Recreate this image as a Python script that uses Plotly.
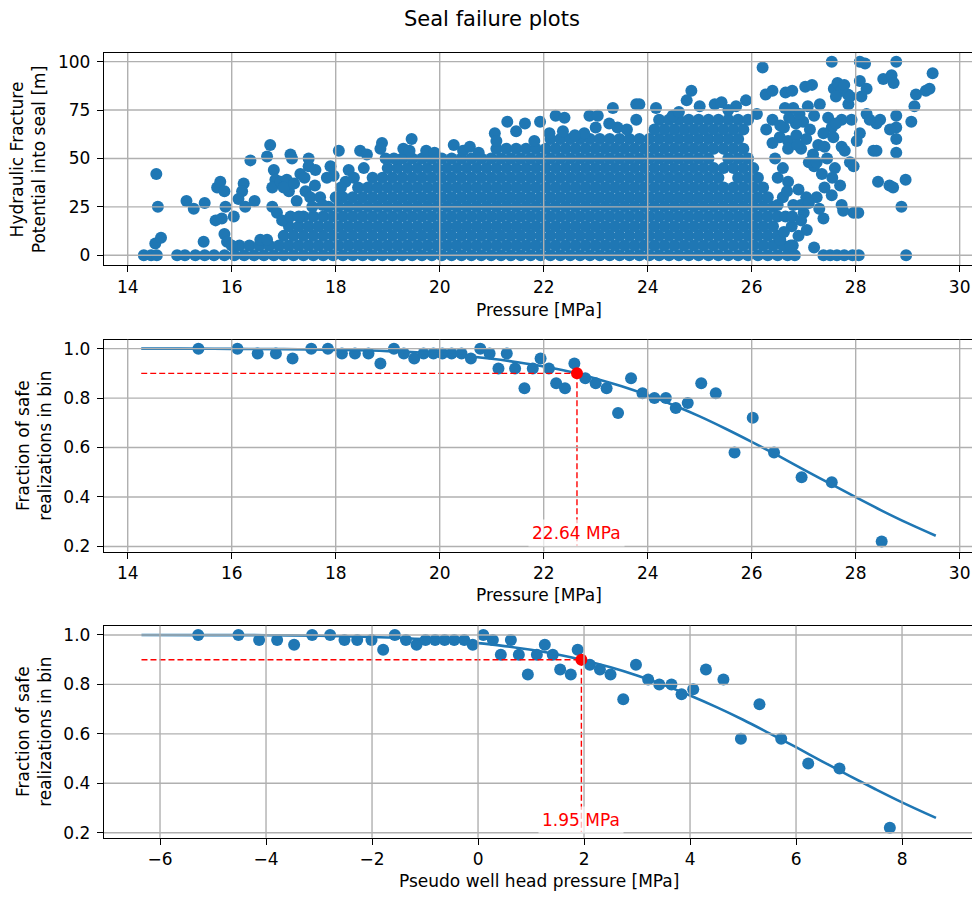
import plotly.graph_objects as go

FONT = "DejaVu Sans"
BLUE = "#1f77b4"
GRID = "#b0b0b0"

# ---------------------------------------------------------------------------
# Realizations: pore pressure [MPa] vs. hydraulic fracture height into seal [m]
# ---------------------------------------------------------------------------
# realizations whose fracture does not enter the seal (0 m)
zero_pressure = [
    14.31, 14.45, 14.56, 14.95, 15.10, 15.30, 15.48, 15.66, 15.86, 16.05, 16.24,
    16.43, 16.62, 16.81, 17.00, 17.19, 17.38, 17.57, 17.76, 17.95, 18.14, 18.33,
    18.52, 18.71, 18.90, 19.09, 19.28, 19.47, 19.66, 19.85, 20.04, 20.23, 20.42,
    20.61, 20.80, 20.99, 21.18, 21.37, 21.56, 21.75, 21.94, 22.13, 22.32, 22.51,
    22.70, 22.89, 23.08, 23.27, 23.46, 23.65, 23.84, 24.03, 24.22, 24.41, 24.60,
    24.79, 24.98, 25.17, 25.36, 25.55, 25.74, 25.93, 26.12, 26.31, 26.50, 26.69,
    26.83, 27.38, 27.51, 27.64, 27.78, 27.94, 28.06, 28.97,
]

# the bulk of the realizations, grouped by fracture height band [m]
band_heights = [5, 10, 15, 20, 25, 30, 35, 40, 45, 50, 55, 60, 65, 70]
band_pressures = [
    [16.15, 16.34, 16.53, 16.72, 16.91, 17.10, 17.29, 17.48, 17.67, 17.86, 18.05,
     18.24, 18.43, 18.62, 18.81, 19.00, 19.19, 19.38, 19.57, 19.76, 19.95, 20.14,
     20.33, 20.52, 20.71, 20.90, 21.09, 21.28, 21.47, 21.66, 21.85, 22.04, 22.23,
     22.42, 22.61, 22.80, 22.99, 23.18, 23.37, 23.56, 23.75, 23.94, 24.13, 24.32,
     24.51, 24.70, 24.89, 25.08, 25.27, 25.46, 25.65, 25.84, 26.03, 26.22, 26.41,
     26.60, 26.79],
    [17.00, 17.19, 17.38, 17.57, 17.76, 17.95, 18.14, 18.33, 18.52, 18.71, 18.90,
     19.09, 19.28, 19.47, 19.66, 19.85, 20.04, 20.23, 20.42, 20.61, 20.80, 20.99,
     21.18, 21.37, 21.56, 21.75, 21.94, 22.13, 22.32, 22.51, 22.70, 22.89, 23.08,
     23.27, 23.46, 23.65, 23.84, 24.03, 24.22, 24.41, 24.60, 24.79, 24.98, 25.17,
     25.36, 25.55, 25.74, 25.93, 26.12, 26.31, 26.50],
    [17.10, 17.29, 17.48, 17.67, 17.86, 18.05, 18.24, 18.43, 18.62, 18.81, 19.00,
     19.19, 19.38, 19.57, 19.76, 19.95, 20.14, 20.33, 20.52, 20.71, 20.90, 21.09,
     21.28, 21.47, 21.66, 21.85, 22.04, 22.23, 22.42, 22.61, 22.80, 22.99, 23.18,
     23.37, 23.56, 23.75, 23.94, 24.13, 24.32, 24.51, 24.70, 24.89, 25.08, 25.27,
     25.46, 25.65, 25.84, 26.03, 26.22, 26.41],
    [17.38, 17.57, 17.76, 17.95, 18.14, 18.33, 18.52, 18.71, 18.90, 19.09, 19.28,
     19.47, 19.66, 19.85, 20.04, 20.23, 20.42, 20.61, 20.80, 20.99, 21.18, 21.37,
     21.56, 21.75, 21.94, 22.13, 22.32, 22.51, 22.70, 22.89, 23.08, 23.27, 23.46,
     23.65, 23.84, 24.03, 24.22, 24.41, 24.60, 24.79, 24.98, 25.17, 25.36, 25.55,
     25.74, 25.93, 26.12, 26.31, 26.50],
    [17.86, 18.05, 18.24, 18.43, 18.62, 18.81, 19.00, 19.19, 19.38, 19.57, 19.76,
     19.95, 20.14, 20.33, 20.52, 20.71, 20.90, 21.09, 21.28, 21.47, 21.66, 21.85,
     22.04, 22.23, 22.42, 22.61, 22.80, 22.99, 23.18, 23.37, 23.56, 23.75, 23.94,
     24.13, 24.32, 24.51, 24.70, 24.89, 25.08, 25.27, 25.46, 25.65, 25.84, 26.03,
     26.22, 26.41],
    [18.14, 18.33, 18.52, 18.71, 18.90, 19.09, 19.28, 19.47, 19.66, 19.85, 20.04,
     20.23, 20.42, 20.61, 20.80, 20.99, 21.18, 21.37, 21.56, 21.75, 21.94, 22.13,
     22.32, 22.51, 22.70, 22.89, 23.08, 23.27, 23.46, 23.65, 23.84, 24.03, 24.22,
     24.41, 24.60, 24.79, 24.98, 25.17, 25.36, 25.55, 25.74, 25.93, 26.12, 26.31],
    [18.43, 18.62, 18.81, 19.00, 19.19, 19.38, 19.57, 19.76, 19.95, 20.14, 20.33,
     20.52, 20.71, 20.90, 21.09, 21.28, 21.47, 21.66, 21.85, 22.04, 22.23, 22.42,
     22.61, 22.80, 22.99, 23.18, 23.37, 23.56, 23.75, 23.94, 24.13, 24.32, 24.51,
     24.70, 24.89, 25.08, 25.27, 25.46, 25.65, 25.84, 26.03, 26.22],
    [18.71, 18.90, 19.09, 19.28, 19.47, 19.66, 19.85, 20.04, 20.23, 20.42, 20.61,
     20.80, 20.99, 21.18, 21.37, 21.56, 21.75, 21.94, 22.13, 22.32, 22.51, 22.70,
     22.89, 23.08, 23.27, 23.46, 23.65, 23.84, 24.03, 24.22, 24.41, 24.60, 24.79,
     24.98, 25.17, 25.36, 25.74, 25.93, 26.12],
    [19.00, 19.19, 19.38, 19.57, 19.76, 19.95, 20.14, 20.33, 20.52, 20.71, 20.90,
     21.09, 21.28, 21.47, 21.66, 21.85, 22.04, 22.23, 22.42, 22.61, 22.80, 22.99,
     23.18, 23.37, 23.56, 23.75, 23.94, 24.13, 24.32, 24.51, 24.70, 24.89, 25.08,
     25.27, 25.46, 25.65, 25.84, 26.03],
    [19.28, 19.47, 19.66, 19.85, 20.04, 20.23, 20.42, 20.61, 20.80, 20.99, 21.18,
     21.37, 21.56, 21.75, 21.94, 22.13, 22.32, 22.51, 22.70, 22.89, 23.08, 23.27,
     23.46, 23.65, 23.84, 24.03, 24.22, 24.41, 24.60, 24.79, 24.98, 25.17, 25.55,
     25.74, 25.93],
    [21.09, 21.28, 21.47, 21.66, 21.85, 22.04, 22.23, 22.42, 22.61, 22.80, 22.99,
     23.18, 23.37, 23.56, 23.75, 23.94, 24.13, 24.32, 24.51, 24.70, 24.89, 25.08,
     25.27, 25.46, 25.65, 25.84],
    [22.13, 22.32, 22.51, 22.70, 22.89, 23.08, 23.27, 23.46, 23.65, 23.84, 24.03,
     24.22, 24.41, 24.60, 24.79, 24.98, 25.17, 25.36, 25.55, 25.74],
    [24.13, 24.32, 24.51, 24.70, 24.89, 25.08, 25.27, 25.46, 25.65, 25.84],
    [24.22, 24.41, 24.60, 24.79, 24.98, 25.17, 25.36, 25.55, 25.74, 25.93],
]

# individual realizations around and above the bulk: (pressure, height)
scattered = [
    (14.55, 42), (14.58, 25), (14.53, 6), (14.64, 9), (15.13, 28), (15.27, 24),
    (15.48, 27), (15.46, 7), (15.69, 18), (15.72, 35), (15.78, 38), (15.86, 33),
    (15.81, 19), (15.88, 25), (16.04, 20), (15.86, 11), (15.91, 7), (16.00, 5),
    (16.23, 37), (16.20, 33), (16.13, 29), (16.26, 25), (16.36, 49), (16.44, 28),
    (16.55, 8), (16.68, 8), (16.68, 51), (16.74, 57), (16.81, 44), (16.84, 39),
    (16.78, 35), (16.78, 25), (16.87, 22), (16.97, 18), (16.94, 38), (17.06, 39),
    (17.13, 52), (17.16, 50), (17.10, 33), (17.13, 20), (17.29, 20), (17.32, 42),
    (17.40, 40), (17.48, 50), (17.48, 46), (17.61, 44), (17.42, 33), (17.51, 30),
    (17.00, 35), (17.20, 37), (17.25, 28), (17.60, 36), (17.70, 30), (17.75, 26),
    (17.55, 25), (17.90, 46), (17.96, 41), (17.83, 40), (18.06, 54), (18.25, 44),
    (18.19, 38), (18.47, 54), (18.60, 52), (18.54, 45), (18.89, 58), (18.86, 55),
    (18.96, 50), (19.12, 50), (18.35, 40), (18.10, 35), (18.00, 30),
    (19.46, 60), (19.30, 55), (19.42, 54), (19.74, 54), (19.90, 53), (20.27, 57),
    (20.45, 54), (20.58, 56), (20.75, 53), (21.06, 63), (21.09, 59), (21.30, 69),
    (21.47, 64), (21.64, 68), (21.82, 59), (21.93, 69), (22.11, 63), (22.23, 72),
    (22.40, 71), (22.37, 64), (22.78, 63), (22.88, 72), (23.04, 72), (23.33, 76),
    (23.42, 66), (23.26, 68), (23.78, 78), (23.84, 78), (23.78, 70), (24.16, 76),
    (24.48, 72), (23.60, 65), (23.00, 66), (22.60, 62), (24.84, 85), (24.75, 80),
    (25.29, 78), (25.42, 79), (25.89, 80), (25.70, 77), (25.00, 77), (24.60, 74),
    (25.55, 75),
    (26.21, 97), (26.27, 83), (26.40, 85), (26.65, 84), (26.78, 85), (27.03, 87),
    (27.16, 88), (27.31, 78), (26.64, 76), (26.80, 76), (26.10, 73), (27.58, 86),
    (27.65, 89), (27.72, 85), (27.78, 88), (27.62, 82), (27.85, 83), (27.54, 100),
    (28.08, 100), (28.18, 99), (28.78, 100), (29.48, 94), (28.53, 91), (28.69, 93),
    (28.73, 89), (28.08, 90), (28.21, 86), (28.11, 82), (27.86, 78), (27.89, 82),
    (29.16, 83), (29.35, 85), (29.42, 86), (29.13, 77), (29.07, 69), (28.78, 72),
    (28.78, 66), (28.78, 60), (28.78, 53), (28.47, 70), (28.66, 65), (28.40, 68),
    (28.34, 54), (28.40, 54), (28.21, 73), (28.27, 70), (28.08, 63), (28.02, 59),
    (27.73, 70), (27.92, 70), (27.47, 71), (27.54, 66), (27.38, 63), (27.57, 61),
    (27.73, 56), (27.79, 54), (27.89, 48), (27.18, 52), (27.28, 57), (26.99, 69),
    (27.12, 65), (26.54, 61), (26.70, 59), (26.86, 62), (26.28, 65), (27.96, 46),
    (28.43, 38), (28.65, 36), (28.72, 35), (28.96, 39), (28.88, 25), (28.05, 22),
    (27.96, 22), (27.73, 26), (27.76, 23), (27.70, 36), (27.54, 31), (27.38, 19),
    (27.06, 13), (27.20, 4), (26.77, 15), (26.45, 50), (26.60, 45), (26.50, 40),
    (26.70, 38), (26.90, 34), (27.05, 30), (26.60, 30), (26.80, 26), (27.00, 22),
    (26.65, 20), (26.90, 10), (26.55, 8), (27.20, 46), (27.35, 42), (27.40, 35),
    (27.25, 30), (26.95, 55), (27.10, 48), (26.40, 58), (26.62, 66), (26.85, 68),
    (27.20, 72), (26.40, 70), (27.45, 50), (27.60, 45), (27.30, 24), (27.55, 40),
    (26.62, 12), (26.78, 20), (26.95, 26), (26.68, 33), (26.70, 55), (26.88, 57),
    (27.05, 60), (26.55, 67), (26.72, 71), (26.92, 73), (27.08, 77), (27.25, 48),
    (27.40, 56), (27.62, 68), (26.95, 18), (27.10, 27), (26.75, 5), (26.50, 26),
]

# ---------------------------------------------------------------------------
# Fraction of safe realizations per pressure bin, and the fitted curve
# ---------------------------------------------------------------------------
bin_pressure = [
    15.36, 16.11, 16.50, 16.85, 17.17, 17.53, 17.85, 18.12, 18.37, 18.63,
    18.86, 19.12, 19.31, 19.51, 19.69, 19.88, 20.05, 20.23, 20.42, 20.60,
    20.78, 20.96, 21.13, 21.29, 21.45, 21.63, 21.79, 21.94, 22.10, 22.24,
    22.41, 22.59, 22.80, 23.00, 23.21, 23.43, 23.68, 23.90, 24.13, 24.35,
    24.54, 24.77, 25.03, 25.31, 25.67, 26.02, 26.43, 26.96, 27.54, 28.50,
]
bin_whp = [
    -5.28, -4.52, -4.13, -3.79, -3.47, -3.13, -2.79, -2.52, -2.28, -2.01,
    -1.79, -1.57, -1.36, -1.16, -0.99, -0.81, -0.63, -0.45, -0.26, -0.10,
    0.10, 0.28, 0.43, 0.62, 0.77, 0.94, 1.11, 1.26, 1.41, 1.55,
    1.75, 1.88, 2.11, 2.30, 2.50, 2.74, 2.98, 3.21, 3.42, 3.65,
    3.84, 4.06, 4.30, 4.63, 4.96, 5.31, 5.72, 6.23, 6.82, 7.77,
]
safe_fraction = [
    1.00, 1.00, 0.98, 0.98, 0.96, 1.00, 1.00, 0.98, 0.98, 0.98,
    0.94, 1.00, 0.98, 0.96, 0.98, 0.98, 0.98, 0.98, 0.98, 0.96,
    1.00, 0.98, 0.92, 0.98, 0.92, 0.84, 0.92, 0.96, 0.92, 0.86,
    0.84, 0.94, 0.88, 0.86, 0.84, 0.74, 0.88, 0.82, 0.80, 0.80,
    0.76, 0.78, 0.86, 0.82, 0.58, 0.72, 0.58, 0.48, 0.46, 0.22,
]

fit_pressure = [14.26, 15.0, 16.0, 17.0, 18.0, 19.0, 20.0, 21.0, 21.5, 22.0,
                22.64, 23.0, 23.5, 24.0, 24.5, 25.0, 25.5, 26.0, 26.5, 27.0,
                27.5, 28.0, 28.5, 29.0, 29.54]
fit_fraction = [1.000, 1.000, 0.999, 0.998, 0.995, 0.990, 0.979, 0.959, 0.945, 0.928,
                0.900, 0.879, 0.848, 0.812, 0.771, 0.726, 0.676, 0.623, 0.568, 0.511,
                0.455, 0.399, 0.345, 0.294, 0.243]

fit_whp = [-6.35, -5.0, -4.0, -3.0, -2.0, -1.0, 0.0, 0.5, 1.0, 1.5, 1.95, 2.5,
           3.0, 3.5, 4.0, 4.5, 5.0, 5.5, 6.0, 6.5, 7.0, 7.5, 8.0, 8.64]
fit_whp_fraction = [1.000, 0.9995, 0.999, 0.997, 0.992, 0.983, 0.967, 0.955, 0.940,
                    0.921, 0.900, 0.869, 0.836, 0.798, 0.755, 0.708, 0.657, 0.602,
                    0.546, 0.488, 0.431, 0.376, 0.323, 0.260]

safe_threshold = 0.9
critical_pressure = 22.64
critical_whp = 1.95
label_level = 0.2535
dropline_floor = 0.2

pressure_ticks = [14, 16, 18, 20, 22, 24, 26, 28, 30]
whp_ticks = [-6, -4, -2, 0, 2, 4, 6, 8]
height_ticks = [0, 25, 50, 75, 100]
fraction_ticks = [0.2, 0.4, 0.6, 0.8, 1.0]

# ---------------------------------------------------------------------------
fig = go.Figure()

# panel 1: fracture potential scatter
hf_x = list(zero_pressure)
hf_y = [0] * len(zero_pressure)
for h, ps in zip(band_heights, band_pressures):
    hf_x += ps
    hf_y += [h] * len(ps)
hf_x += [p for p, _ in scattered]
hf_y += [h for _, h in scattered]

fig.add_trace(go.Scatter(x=hf_x, y=hf_y, mode="markers", xaxis="x", yaxis="y",
                         marker=dict(size=12, color=BLUE, line=dict(width=0))))


def safety_panel(xa, ya, bins, fx, fy, x_crit, x_start):
    fig.add_trace(go.Scatter(x=bins, y=safe_fraction, mode="markers", xaxis=xa, yaxis=ya,
                             marker=dict(size=12, color=BLUE, line=dict(width=0))))
    fig.add_trace(go.Scatter(x=fx, y=fy, mode="lines", xaxis=xa, yaxis=ya,
                             line=dict(color=BLUE, width=2.6, shape="spline")))
    dash = dict(color="red", width=1.4, dash="6px,3px")
    fig.add_trace(go.Scatter(x=[x_start, x_crit], y=[safe_threshold, safe_threshold],
                             mode="lines", xaxis=xa, yaxis=ya, line=dash))
    fig.add_trace(go.Scatter(x=[x_crit, x_crit], y=[safe_threshold, dropline_floor],
                             mode="lines", xaxis=xa, yaxis=ya, line=dash))
    fig.add_trace(go.Scatter(x=[x_crit], y=[safe_threshold], mode="markers",
                             xaxis=xa, yaxis=ya,
                             marker=dict(size=12, color="red", line=dict(width=0))))


safety_panel("x2", "y2", bin_pressure, fit_pressure, fit_fraction,
             critical_pressure, fit_pressure[0])
safety_panel("x3", "y3", bin_whp, fit_whp, fit_whp_fraction,
             critical_whp, fit_whp[0])


# grid lines drawn over the markers
def add_grid(xr, yr, xticks, yticks):
    for v in xticks:
        fig.add_shape(type="line", xref=xr, yref=yr + " domain", x0=v, x1=v, y0=0, y1=1,
                      line=dict(color=GRID, width=1.4), layer="above")
    for v in yticks:
        fig.add_shape(type="line", xref=xr + " domain", yref=yr, x0=0, x1=1, y0=v, y1=v,
                      line=dict(color=GRID, width=1.4), layer="above")


add_grid("x", "y", pressure_ticks, height_ticks)
add_grid("x2", "y2", pressure_ticks, fraction_ticks)
add_grid("x3", "y3", whp_ticks, fraction_ticks)

axis_style = dict(showline=True, linecolor="black", linewidth=1.4, ticks="outside",
                  ticklen=6, tickwidth=1.4, tickcolor="black", showgrid=False,
                  zeroline=False, tickfont=dict(family=FONT, size=17, color="black"))
yaxis_style = dict(axis_style, ticklabelstandoff=3)
xdom = [0.107, 1.0]

fig.update_layout(
    width=972, height=900, margin=dict(l=0, r=0, t=0, b=0),
    paper_bgcolor="white", plot_bgcolor="white", showlegend=False,
    font=dict(family=FONT, size=17, color="black"),
    xaxis=dict(domain=xdom, range=[13.544, 30.237], tickvals=pressure_ticks,
               mirror=True, anchor="y", **axis_style),
    yaxis=dict(domain=[0.7048, 0.9419], range=[-5, 104.5], tickvals=height_ticks,
               anchor="x", **yaxis_style),
    xaxis2=dict(domain=xdom, range=[13.544, 30.237], tickvals=pressure_ticks,
                mirror=True, anchor="y2", **axis_style),
    yaxis2=dict(domain=[0.3841, 0.6211], range=[0.179, 1.036], tickvals=fraction_ticks,
                tickformat=".1f", anchor="x2", **yaxis_style),
    xaxis3=dict(domain=xdom, range=[-7.057, 9.32], tickvals=whp_ticks,
                mirror=True, anchor="y3", **axis_style),
    yaxis3=dict(domain=[0.0641, 0.3011], range=[0.18, 1.037], tickvals=fraction_ticks,
                tickformat=".1f", anchor="x3", **yaxis_style),
)


def text(px, py, s, size=17, angle=0):
    fig.add_annotation(x=px / 972, y=1 - py / 900, xref="paper", yref="paper", text=s,
                       showarrow=False, xanchor="center", yanchor="middle",
                       textangle=angle, font=dict(family=FONT, size=size, color="black"))


text(492, 18, "Seal failure plots", size=21)
text(538.5, 311, "Pressure [MPa]")
text(538.5, 598, "Pressure [MPa]")
text(538.5, 886, "Pseudo well head pressure [MPa]")
text(28.3, 159, "Hydraulic Fracture<br>Potential into seal [m]", angle=-90)
text(34, 447.7, "Fraction of safe<br>realizations in bin", angle=-90)
text(34, 735.7, "Fraction of safe<br>realizations in bin", angle=-90)

for xr, yr, xc in (("x2", "y2", critical_pressure), ("x3", "y3", critical_whp)):
    fig.add_annotation(x=xc, y=label_level, xref=xr, yref=yr, text=f"{xc:.2f} MPa",
                       showarrow=False, xanchor="center", yanchor="middle",
                       font=dict(family=FONT, size=17, color="red"),
                       bgcolor="rgba(255,255,255,0.7)", borderpad=3)

fig.write_html("out.html")
